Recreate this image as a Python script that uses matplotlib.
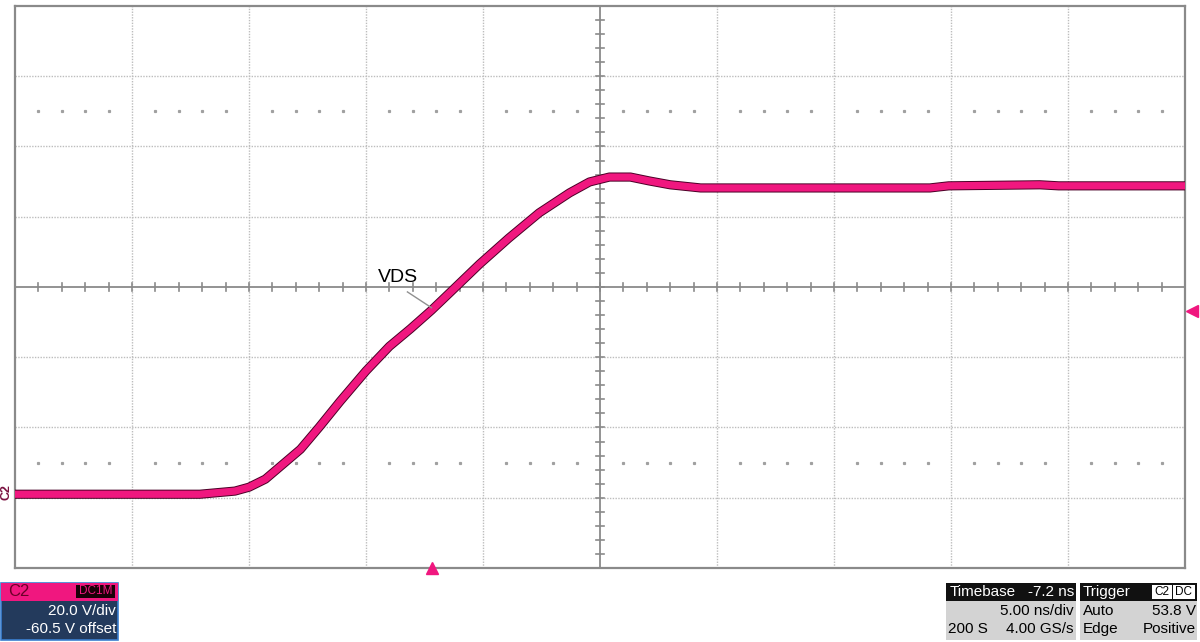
import numpy as np
import matplotlib
matplotlib.use('Agg')
import matplotlib.pyplot as plt
from matplotlib.patches import Rectangle

plt.rcParams['font.family'] = ['Liberation Sans', 'DejaVu Sans']

# trace: time [ns], VDS [V]
t_ns = [-17.8, -9.9, -8.4, -7.8, -7.1, -6.5, -5.6, -4.8, -3.9, -2.8, -1.8, -0.9,
        0.0, 0.8, 2.05, 3.3, 4.6, 5.9, 6.75, 7.6, 8.5, 9.3, 10.2, 11.5, 15.7,
        21.3, 22.1, 26.0, 26.8, 32.2]
vds = [1.5, 1.5, 2.4, 3.5, 5.8, 9.2, 14.3, 20.6, 28.0, 36.6, 43.6, 48.6,
       53.9, 59.0, 67.0, 74.4, 81.6, 87.3, 90.4, 91.8, 91.8, 90.7, 89.6, 88.7, 88.7,
       88.7, 89.3, 89.6, 89.3, 89.3]

volts_div = 20.0
offset = -60.5
ns_div = 5.00
delay = -7.2
trig_level = 53.8

W, H = 1200, 642
fig = plt.figure(figsize=(12, 6.42), dpi=100)

def fx(px):
    return px / W

def fy(py):
    return 1 - py / H

# plot area in pixels
L, R, T, B = 15, 1185, 6, 568
ax = fig.add_axes([fx(L), fy(B), (R - L) / W, (B - T) / H])

x_center = -delay
y_center = -offset
x0, x1 = x_center - 5 * ns_div, x_center + 5 * ns_div
y0, y1 = y_center - 4 * volts_div, y_center + 4 * volts_div
ax.set_xlim(x0, x1)
ax.set_ylim(y0, y1)
ax.set_xticks([])
ax.set_yticks([])
for s in ax.spines.values():
    s.set_color('#8a8a8a')
    s.set_linewidth(1.6)

grid_c = '#bdbdbd'
for k in range(1, 10):
    xv = x0 + k * ns_div
    if k == 5:
        continue
    ax.axvline(xv, color=grid_c, lw=1.0, ls=(0, (1, 1)))
for k in range(1, 8):
    yv = y0 + k * volts_div
    if k == 4:
        continue
    ax.axhline(yv, color=grid_c, lw=1.0, ls=(0, (1, 1)))

# center cross with minor ticks
ax.axvline(x_center, color='#8a8a8a', lw=1.3)
ax.axhline(y_center, color='#8a8a8a', lw=1.3)
mx = np.arange(x0, x1 + 0.01, ns_div / 5)
my = np.arange(y0, y1 + 0.01, volts_div / 5)
tx = 0.17
ty = 1.1
for xv in mx:
    ax.plot([xv, xv], [y_center - ty, y_center + ty], color='#8a8a8a', lw=1.2)
for yv in my:
    ax.plot([x_center - tx, x_center + tx], [yv, yv], color='#8a8a8a', lw=1.2)

# faint dot rows
dot_rows = [y0 + 1.5 * volts_div, y1 - 1.5 * volts_div]
for yr in dot_rows:
    pts = [xv for xv in mx if abs(((xv - x0) / ns_div) - round((xv - x0) / ns_div)) > 0.05]
    ax.plot(pts, [yr] * len(pts), ls='none', marker='s', ms=1.3, color='#a0a0a0')

# trace
ax.plot(t_ns, vds, color='#4a0026', lw=6.6, solid_capstyle='butt', zorder=5)
ax.plot(t_ns, vds, color='#f0177f', lw=5.2, solid_capstyle='butt', zorder=6)

# VDS label
ax.text(-1.45, 63.3, 'VDS', fontsize=14, color='black', ha='center', va='center')
ax.plot([-1.03, 0.0], [59.1, 54.6], color='#909090', lw=1.0, zorder=7)

# markers
ax.plot([0.0], [y0], marker='^', ms=8, color='#f0177f', clip_on=False, zorder=7)
ax.plot([x1 + 0.28], [trig_level], marker='<', ms=8, color='#f0177f', clip_on=False, zorder=7)
fig.text(fx(6), fy(492), 'C2', rotation=90, fontsize=9, color='#7a1040',
         ha='center', va='center', fontweight='bold')

# channel box
fig.patches.append(Rectangle((fx(1), fy(640)), fx(117), (640 - 583) / H,
                             facecolor='#233a5c', edgecolor='#3b7fd0', lw=1.2,
                             transform=fig.transFigure, figure=fig))
fig.patches.append(Rectangle((fx(1), fy(601)), fx(117), (601 - 583) / H,
                             facecolor='#f0177f', edgecolor='none',
                             transform=fig.transFigure, figure=fig))
fig.patches.append(Rectangle((fx(76), fy(598)), fx(39), (598 - 585) / H,
                             facecolor='#1a0008', edgecolor='none',
                             transform=fig.transFigure, figure=fig))
fig.text(fx(8), fy(592), 'C2', fontsize=12, color='#6a0028', va='center', ha='left')
fig.text(fx(95.5), fy(591.5), 'DC1M', fontsize=8.5, color='#f0177f', va='center', ha='center')
fig.text(fx(116), fy(611), f'{volts_div:.1f} V/div', fontsize=11, color='white',
         va='center', ha='right')
fig.text(fx(116), fy(629), f'{offset:.1f} V offset', fontsize=11, color='white',
         va='center', ha='right')

# timebase box
fig.patches.append(Rectangle((fx(946), fy(640)), fx(130), (640 - 583) / H,
                             facecolor='#d3d3d3', edgecolor='none',
                             transform=fig.transFigure, figure=fig))
fig.patches.append(Rectangle((fx(946), fy(601)), fx(130), (601 - 583) / H,
                             facecolor='#111111', edgecolor='none',
                             transform=fig.transFigure, figure=fig))
fig.text(fx(950), fy(592), 'Timebase', fontsize=11, color='white', va='center', ha='left')
fig.text(fx(1074), fy(592), f'{delay:.1f} ns', fontsize=11, color='white', va='center', ha='right')
fig.text(fx(1074), fy(611), f'{ns_div:.2f} ns/div', fontsize=11, color='black', va='center', ha='right')
fig.text(fx(948), fy(629), '200 S', fontsize=11, color='black', va='center', ha='left')
fig.text(fx(1074), fy(629), '4.00 GS/s', fontsize=11, color='black', va='center', ha='right')

# trigger box
fig.patches.append(Rectangle((fx(1080), fy(640)), fx(117), (640 - 583) / H,
                             facecolor='#d3d3d3', edgecolor='none',
                             transform=fig.transFigure, figure=fig))
fig.patches.append(Rectangle((fx(1080), fy(601)), fx(117), (601 - 583) / H,
                             facecolor='#111111', edgecolor='none',
                             transform=fig.transFigure, figure=fig))
for bx, bw in [(1152, 20), (1173, 22)]:
    fig.patches.append(Rectangle((fx(bx), fy(599)), fx(bw), (599 - 585) / H,
                                 facecolor='white', edgecolor='none',
                                 transform=fig.transFigure, figure=fig))
fig.text(fx(1083), fy(592), 'Trigger', fontsize=11, color='white', va='center', ha='left')
fig.text(fx(1162), fy(592), 'C2', fontsize=8.5, color='black', va='center', ha='center')
fig.text(fx(1184), fy(592), 'DC', fontsize=8.5, color='black', va='center', ha='center')
fig.text(fx(1083), fy(611), 'Auto', fontsize=11, color='black', va='center', ha='left')
fig.text(fx(1196), fy(611), f'{trig_level:.1f} V', fontsize=11, color='black', va='center', ha='right')
fig.text(fx(1083), fy(629), 'Edge', fontsize=11, color='black', va='center', ha='left')
fig.text(fx(1196), fy(629), 'Positive', fontsize=11, color='black', va='center', ha='right')

fig.savefig('out.png', dpi=100, facecolor='white')
